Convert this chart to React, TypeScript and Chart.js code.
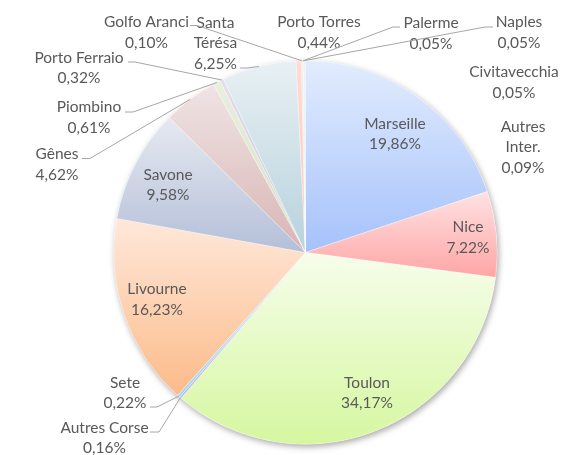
import React, { useEffect, useRef } from "react";
import { Chart, registerables } from "chart.js";

Chart.register(...registerables);

// ---- data ----
const categories = [
  "Marseille", "Nice", "Toulon", "Autres Corse", "Sete", "Livourne", "Savone",
  "Gênes", "Piombino", "Porto Ferraio", "Santa Térésa", "Porto Torres",
  "Golfo Aranci", "Palerme", "Naples", "Civitavecchia", "Autres Inter.",
];
const shares = [
  19.86, 7.22, 34.17, 0.16, 0.22, 16.23, 9.58,
  4.62, 0.61, 0.32, 6.25, 0.44,
  0.10, 0.05, 0.05, 0.05, 0.09,
];

// ---- styles ----
const topColors = [
  "#e2ecfd", "#ffe2e2", "#f6fdeb", "#d9cdee", "#c4e8f6", "#fee8da", "#e6e9f1",
  "#f0e4e4", "#e9f0df", "#e4deee", "#e8f0f4", "#ffdcd4",
  "#dfe6f2", "#f2dede", "#e6efdc", "#e2dcec", "#d8ecf2",
];
const bottomColors = [
  "#a5c2fc", "#ffa5a5", "#d6f7a0", "#c4b2e4", "#9fd9ef", "#fcbb8a", "#b4bfd8",
  "#d8b4b4", "#d2e1c0", "#c9bedb", "#b7d2dc", "#ffc4b8",
  "#b9c8e2", "#e0b8b8", "#cfe0bc", "#c8bedc", "#b0d8e4",
];
const wrapped: Record<string, string[]> = {
  "Santa Térésa": ["Santa", "Térésa"],
  "Autres Inter.": ["Autres", "Inter."],
};

// label layout: center x, first line center y; optional leader stub [x0, x1, y]
type LabelPos = { x: number; y: number; stub?: [number, number, number] };
const labelPos: LabelPos[] = [
  { x: 395, y: 123.5 },
  { x: 468, y: 227 },
  { x: 367, y: 382.5 },
  { x: 104.5, y: 427.5, stub: [150, 159, 432] },
  { x: 125, y: 382.5, stub: [150, 157, 407] },
  { x: 157, y: 289 },
  { x: 168, y: 174.5 },
  { x: 57, y: 154, stub: [82, 90, 158.5] },
  { x: 89, y: 107, stub: [125, 133, 112] },
  { x: 79, y: 57.5, stub: [128, 135, 62] },
  { x: 215.5, y: 22.5, stub: [240, 247, 68] },
  { x: 319, y: 22 },
  { x: 146.5, y: 22, stub: [190, 197, 25.5] },
  { x: 431, y: 23, stub: [400, 393, 27] },
  { x: 519, y: 22, stub: [493, 485, 27] },
  { x: 514, y: 72 },
  { x: 523, y: 126.5 },
];

const LINE_H = 20.5;
const FONT = "15.5px Lato";
const TEXT_COLOR = "#595959";
const LEADER_COLOR = "#a6a6a6";

const fmt = (v: number) => v.toFixed(2).replace(".", ",") + "%";

function sliceGradient(ctx: any) {
  const chart = ctx.chart;
  const i = ctx.dataIndex;
  const area = chart.chartArea;
  if (!area || i === undefined) return bottomColors[i ?? 0];
  const cx = (area.left + area.right) / 2;
  const cy = (area.top + area.bottom) / 2;
  const r = Math.min(area.right - area.left, area.bottom - area.top) / 2;
  const total = shares.reduce((a, b) => a + b, 0);
  let before = 0;
  for (let j = 0; j < i; j++) before += shares[j];
  const a0 = (before / total) * Math.PI * 2;
  const a1 = ((before + shares[i]) / total) * Math.PI * 2;
  const ys = [cy, cy - r * Math.cos(a0), cy - r * Math.cos(a1)];
  if (a0 < Math.PI && a1 > Math.PI) ys.push(cy + r);
  const top = Math.min(...ys);
  const bot = Math.max(...ys);
  const g = chart.ctx.createLinearGradient(0, top, 0, Math.max(bot, top + 1));
  g.addColorStop(0, topColors[i]);
  g.addColorStop(1, bottomColors[i]);
  return g;
}

const shadowPlugin = {
  id: "pieShadow",
  beforeDatasetsDraw(chart: any) {
    const arc = chart.getDatasetMeta(0).data[0];
    if (!arc) return;
    const { x, y, outerRadius } = arc;
    const c = chart.ctx;
    c.save();
    c.shadowColor = "rgba(0,0,0,0.35)";
    c.shadowBlur = 6;
    c.shadowOffsetX = 1.5;
    c.shadowOffsetY = 2.5;
    c.beginPath();
    c.arc(x, y, outerRadius, 0, Math.PI * 2);
    c.fillStyle = "#ffffff";
    c.fill();
    c.restore();
  },
};

const labelPlugin = {
  id: "pieLabels",
  afterDatasetsDraw(chart: any) {
    const c = chart.ctx;
    const meta = chart.getDatasetMeta(0);
    c.save();
    c.font = FONT;
    c.fillStyle = TEXT_COLOR;
    c.textAlign = "center";
    c.textBaseline = "middle";
    meta.data.forEach((arc: any, i: number) => {
      const pos = labelPos[i];
      if (!pos) return;
      const lines = [...(wrapped[categories[i]] ?? [categories[i]]), fmt(shares[i])];
      lines.forEach((t, k) => c.fillText(t, pos.x, pos.y + k * LINE_H));
      if (pos.stub) {
        const { x, y, startAngle, endAngle, outerRadius } = arc;
        const mid = (startAngle + endAngle) / 2;
        const ex = x + outerRadius * Math.cos(mid);
        const ey = y + outerRadius * Math.sin(mid);
        const [x0, x1, sy] = pos.stub;
        c.save();
        c.strokeStyle = LEADER_COLOR;
        c.lineWidth = 1;
        c.beginPath();
        c.moveTo(x0, sy);
        c.lineTo(x1, sy);
        c.lineTo(ex, ey);
        c.stroke();
        c.restore();
      }
    });
    c.restore();
  },
};

export default function App() {
  const ref = useRef<HTMLCanvasElement>(null);
  useEffect(() => {
    if (!ref.current) return;
    const chart = new Chart(ref.current, {
      type: "pie",
      data: {
        labels: categories,
        datasets: [
          {
            data: shares,
            backgroundColor: sliceGradient as any,
            borderColor: "rgba(255,255,255,0.55)",
            borderWidth: 0.6,
            hoverOffset: 0,
            offset: 0,
          },
        ],
      },
      options: {
        responsive: false,
        animation: false,
        layout: { padding: { left: 113.5, right: 67.5, top: 60.5, bottom: 10.5 } },
        plugins: {
          legend: { display: false },
          tooltip: { enabled: false },
          title: { display: false },
        },
        events: [],
      },
      plugins: [shadowPlugin, labelPlugin],
    });
    return () => chart.destroy();
  }, []);
  return (
    <div style={{ position: "fixed", left: 0, top: 0, width: 565, height: 455, background: "#fff" }}>
      <canvas ref={ref} width={565} height={455} style={{ display: "block" }} />
    </div>
  );
}
